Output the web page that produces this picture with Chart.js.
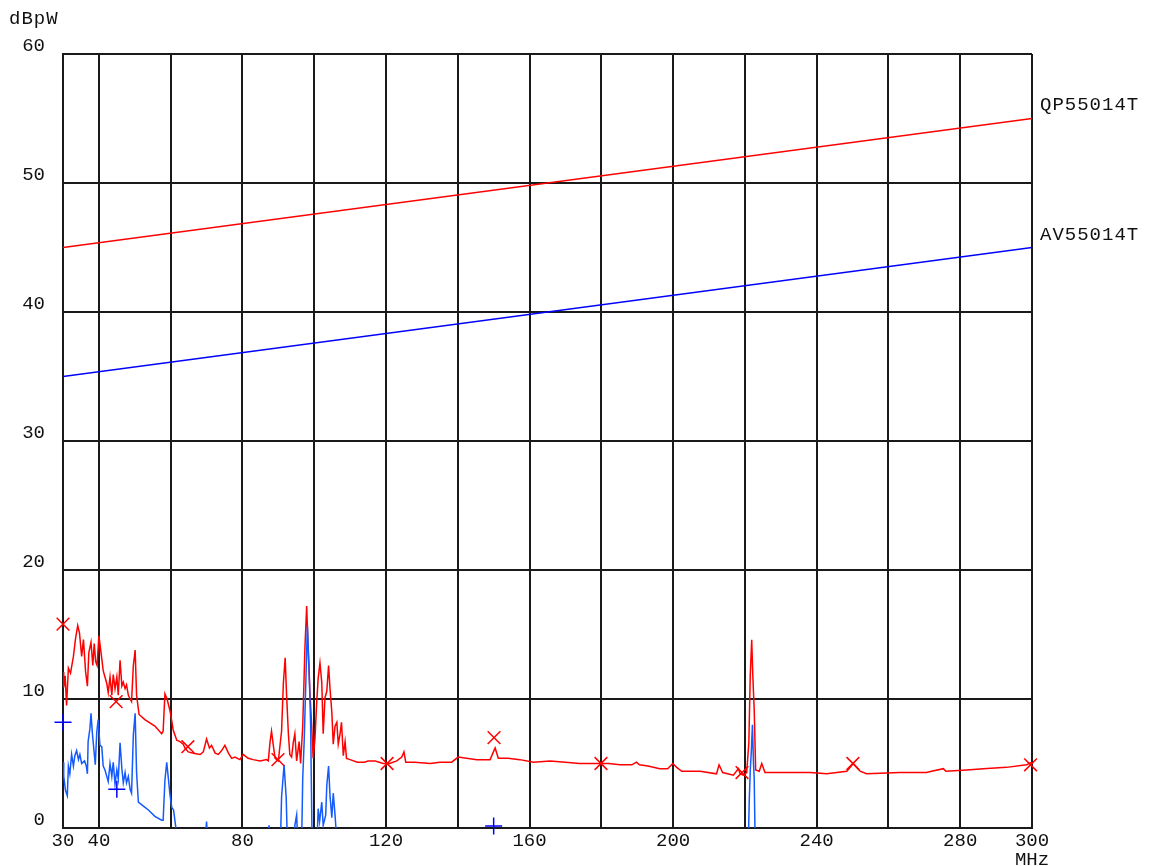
<!DOCTYPE html>
<html>
<head>
<meta charset="utf-8">
<script src="https://cdn.jsdelivr.net/npm/chart.js@4"></script>
<style>
  html, body { margin: 0; padding: 0; background: #fff; }
  #wrap { width: 1151px; height: 866px; }
</style>
</head>
<body>
<div id="wrap"><canvas id="emiChart" width="1151" height="866"></canvas></div>
<script>
// x grid / tick labels (MHz)
let xGrid = [30, 40, 60, 80, 100, 120, 140, 160, 180, 200, 220, 240, 260, 280, 300];
let xLabels = ["30", "40", "", "80", "", "120", "", "160", "", "200", "", "240", "", "280", ["300", "MHz"]];
let yUnit = "dBpW";

// limit lines
let limitFreq = [30, 300];
let qpLimit = [45, 55];
let avLimit = [35, 45];
let qpName = "QP55014T";
let avName = "AV55014T";

// peak scan (red)
let pkFreq = [30.0, 30.2, 30.6, 31.0, 31.5, 32.1, 32.9, 33.5, 34.1, 34.6, 35.2, 35.7, 36.3, 36.8, 37.2, 37.8, 38.3, 38.7, 39.1, 39.5,
  40.0, 40.6, 41.2, 42.2, 42.6, 43.1, 43.6, 44.0, 44.5, 45.0, 45.4, 45.9, 46.4, 46.8, 47.3, 47.7, 48.2, 48.7, 49.1, 49.6,
  50.1, 50.5, 51.2, 52.8, 55.6, 57.5, 57.9, 58.4, 59.0, 59.8, 60.3, 60.7, 61.7, 62.6, 63.5, 64.0, 64.9, 66.3, 68.2, 69.1,
  70.0, 70.8, 71.4, 72.4, 73.3, 74.2, 75.1, 76.1, 77.0, 77.9, 79.3, 80.2, 81.6, 83.0, 84.9, 86.7, 87.2, 87.7, 88.1, 88.6,
  89.1, 90.0, 90.9, 91.4, 91.9, 92.3, 92.8, 93.2, 93.7, 94.2, 94.6, 95.1, 95.8, 96.2, 96.8, 97.4, 97.9, 98.3, 98.8, 99.3,
  99.7, 100.2, 100.7, 101.1, 101.6, 102.1, 102.5, 103.0, 103.5, 104.0, 104.4, 104.9, 105.3, 105.8, 106.3, 106.7, 107.2, 107.6, 108.1, 108.6,
  109.0, 110.0, 112.0, 114.0, 115.0, 117.0, 119.2, 121.0, 123.0, 124.4, 125.0, 125.5, 128.0, 132.3, 135.0, 138.3, 140.1, 145.3, 149.0, 150.4,
  151.3, 154.0, 157.3, 161.1, 165.7, 170.0, 174.0, 179.6, 182.0, 185.2, 188.5, 189.8, 190.6, 193.0, 196.3, 198.5, 199.9, 201.0, 202.4, 207.5,
  212.1, 212.8, 213.8, 216.8, 218.2, 218.7, 219.6, 220.5, 221.1, 221.5, 221.9, 222.2, 222.6, 223.0, 224.0, 224.7, 225.6, 231.2, 238.2, 242.8,
  248.4, 250.2, 252.1, 253.9, 263.2, 270.6, 272.0, 275.3, 276.0, 281.8, 286.4, 292.9, 298.5, 300.0];
let pkLevel = [12.1, 10.9, 11.8, 9.5, 12.4, 12.0, 13.3, 14.7, 15.7, 15.1, 13.3, 14.6, 12.1, 11.0, 13.6, 14.4, 12.6, 14.3, 12.9, 12.6,
  14.9, 13.6, 12.2, 11.2, 10.5, 11.7, 10.3, 11.9, 10.8, 11.7, 10.3, 13.0, 11.0, 11.3, 10.8, 11.1, 10.3, 10.0, 9.8, 12.6,
  13.8, 10.3, 8.8, 8.4, 7.9, 7.3, 7.5, 10.4, 10.0, 9.1, 8.3, 7.6, 6.8, 6.7, 6.5, 6.2, 5.9, 5.8, 5.7, 5.9,
  6.9, 6.2, 6.4, 5.8, 5.7, 6.0, 6.4, 5.8, 5.4, 5.5, 5.3, 5.7, 5.4, 5.3, 5.2, 5.3, 5.2, 6.7, 7.5, 6.4,
  5.4, 5.2, 7.5, 11.2, 13.2, 10.3, 7.3, 5.7, 5.5, 6.7, 7.3, 5.2, 6.7, 5.0, 7.9, 13.9, 17.2, 13.9, 10.5, 7.9,
  5.4, 6.9, 9.8, 11.6, 12.8, 11.3, 7.3, 10.1, 10.6, 12.6, 10.8, 9.0, 6.5, 7.9, 8.2, 6.5, 7.3, 8.2, 5.6, 6.7,
  5.4, 5.3, 5.1, 5.1, 5.2, 5.2, 5.0, 5.0, 5.2, 5.5, 5.9, 5.1, 5.1, 5.0, 5.1, 5.1, 5.5, 5.3, 5.3, 6.2,
  5.4, 5.4, 5.3, 5.1, 5.2, 5.1, 5.0, 5.0, 5.0, 4.9, 4.9, 5.1, 4.9, 4.8, 4.6, 4.6, 5.0, 4.7, 4.4, 4.4,
  4.2, 4.9, 4.3, 4.1, 4.6, 4.2, 4.1, 4.3, 6.6, 11.9, 14.6, 11.9, 9.1, 4.5, 4.4, 5.0, 4.3, 4.3, 4.3, 4.2,
  4.4, 5.0, 4.4, 4.2, 4.3, 4.3, 4.4, 4.6, 4.4, 4.5, 4.6, 4.7, 4.9, 5.1];

// average scan (blue), values below 0 run off the bottom
let avFreq = [30.0, 30.2, 30.7, 31.2, 31.5, 31.9, 32.4, 32.9, 33.3, 33.8, 34.3, 34.7, 35.2, 36.0, 36.5, 36.8, 37.0, 37.5, 37.8, 38.2,
  38.6, 39.0, 39.4, 39.8, 40.3, 40.8, 41.2, 41.7, 42.2, 42.6, 43.1, 43.6, 44.0, 44.5, 45.0, 45.4, 45.9, 46.4, 46.8, 47.3,
  47.7, 48.2, 48.7, 49.1, 49.6, 50.1, 50.5, 51.0, 52.4, 53.8, 55.6, 57.5, 57.9, 58.4, 58.9, 59.3, 59.8, 60.3, 60.8, 61.7,
  62.5, 69.6, 70.0, 70.3, 87.0, 87.4, 87.8, 90.6, 90.9, 91.6, 92.2, 92.5, 94.4, 94.6, 95.1, 95.4, 96.5, 96.8, 97.2, 97.7,
  98.1, 98.6, 99.0, 99.4, 100.8, 101.1, 101.5, 102.1, 102.5, 103.2, 103.5, 104.0, 104.4, 104.9, 105.3, 105.8, 106.3, 150.0, 220.9, 221.2,
  221.5, 221.8, 222.1, 222.4, 222.6, 222.9, 300.0];
let avLevel = [5.1, 4.0, 2.9, 2.5, 4.8, 4.2, 5.7, 4.8, 5.6, 6.0, 5.3, 5.7, 5.0, 5.2, 4.8, 4.2, 6.7, 7.7, 8.9, 7.3,
  6.1, 4.9, 7.4, 8.4, 6.4, 6.3, 4.8, 4.5, 4.0, 3.6, 5.0, 4.0, 5.1, 3.4, 4.5, 3.8, 6.6, 4.6, 3.5, 4.3,
  3.5, 4.0, 3.0, 2.7, 7.2, 8.9, 4.3, 2.0, 1.7, 1.4, 0.9, 0.6, 0.6, 3.7, 5.1, 4.0, 2.6, 1.6, 1.4, -0.5,
  -2, -1, 0.5, -1, -1, 0.2, -1, -1, 2.4, 4.9, 2.3, -1, -1, 0.2, 1.0, -1, -1, 3.9, 6.7, 11.7,
  15.7, 12.1, 8.0, -1, -1, 1.5, 0.5, 2.0, 0.2, 1.0, 3.3, 4.8, 2.5, 0.8, 2.7, 1.0, -1, -2, -2, 2,
  4.5, 6, 8, 5, 3.8, -2, -2];

// final measurement markers
let qpMarkFreq = [30, 44.8, 64.8, 89.9, 120.3, 150.1, 179.9, 219.2, 250.1, 299.6];
let qpMarkLevel = [15.8, 9.8, 6.3, 5.3, 5.0, 7.0, 5.0, 4.3, 5.0, 4.9];
let avMarkFreq = [30, 45, 150];
let avMarkLevel = [8.2, 3.0, 0.15];

function toPoints(xs, ys) {
  return xs.map((x, i) => ({ x: x, y: ys[i] }));
}

const FONT = '"Liberation Mono", "Courier New", monospace';

const sideLabels = {
  id: "sideLabels",
  afterDraw(chart) {
    const { ctx, scales: { x, y } } = chart;
    ctx.save();
    ctx.font = "19px " + FONT;
    ctx.fillStyle = "#111";
    ctx.textBaseline = "middle";
    ctx.textAlign = "left";
    ctx.letterSpacing = "1px";
    ctx.fillText(qpName, x.right + 8, y.getPixelForValue(qpLimit[1]) - 14);
    ctx.fillText(avName, x.right + 8, y.getPixelForValue(avLimit[1]) - 13);
    ctx.fillText(yUnit, 9, 19);
    ctx.restore();
  },
};

let chart_Data = {
  datasets: [
    {
      label: "AV marks",
      data: toPoints(avMarkFreq, avMarkLevel),
      showLine: false,
      clip: false,
      pointStyle: "cross",
      pointRadius: 8.5,
      pointBorderWidth: 1.5,
      borderColor: "#0000ff",
      backgroundColor: "#0000ff",
    },
    {
      label: "QP marks",
      data: toPoints(qpMarkFreq, qpMarkLevel),
      showLine: false,
      clip: false,
      pointStyle: "crossRot",
      pointRadius: 9,
      pointBorderWidth: 1.5,
      borderColor: "#ff0000",
      backgroundColor: "#ff0000",
    },
    {
      label: "Average",
      data: toPoints(avFreq, avLevel),
      borderColor: "rgb(20,90,255)",
      borderWidth: 1.5,
      pointRadius: 0,
      fill: false,
    },
    {
      label: "Peak",
      data: toPoints(pkFreq, pkLevel),
      borderColor: "#ff0000",
      borderWidth: 1.5,
      pointRadius: 0,
      fill: false,
    },
    {
      label: avName,
      data: toPoints(limitFreq, avLimit),
      borderColor: "#0000ff",
      borderWidth: 1.5,
      pointRadius: 0,
    },
    {
      label: qpName,
      data: toPoints(limitFreq, qpLimit),
      borderColor: "#ff0000",
      borderWidth: 1.5,
      pointRadius: 0,
    },
  ],
};

let options = {
  responsive: false,
  animation: false,
  events: [],
  layout: { padding: { left: 0, top: 54, right: 119, bottom: 0 } },
  plugins: { legend: { display: false }, tooltip: { enabled: false } },
  scales: {
    x: {
      type: "linear",
      min: 30,
      max: 300,
      afterBuildTicks: (scale) => {
        scale.ticks = xGrid.map((v) => ({ value: v }));
      },
      afterFit: (scale) => {
        scale.height = 38;
      },
      ticks: {
        autoSkip: false,
        maxRotation: 0,
        padding: 3,
        color: "#111",
        font: { family: FONT, size: 19, lineHeight: 1.0 },
        callback: (value) => {
          let i = xGrid.indexOf(value);
          return i >= 0 ? xLabels[i] : "";
        },
      },
      grid: { color: "#1a1a1a", lineWidth: 2, drawTicks: false },
      border: { color: "#1a1a1a", width: 2 },
    },
    y: {
      min: 0,
      max: 60,
      afterFit: (scale) => {
        scale.width = 63;
      },
      ticks: {
        stepSize: 10,
        padding: 18,
        labelOffset: -8,
        color: "#111",
        font: { family: FONT, size: 19 },
      },
      grid: { color: "#1a1a1a", lineWidth: 2, drawTicks: false },
      border: { color: "#1a1a1a", width: 2 },
    },
  },
};

var ctx = document.getElementById("emiChart").getContext("2d");
var myChart = new Chart(ctx, {
  type: "line",
  data: chart_Data,
  options: options,
  plugins: [sideLabels],
});
</script>
</body>
</html>
